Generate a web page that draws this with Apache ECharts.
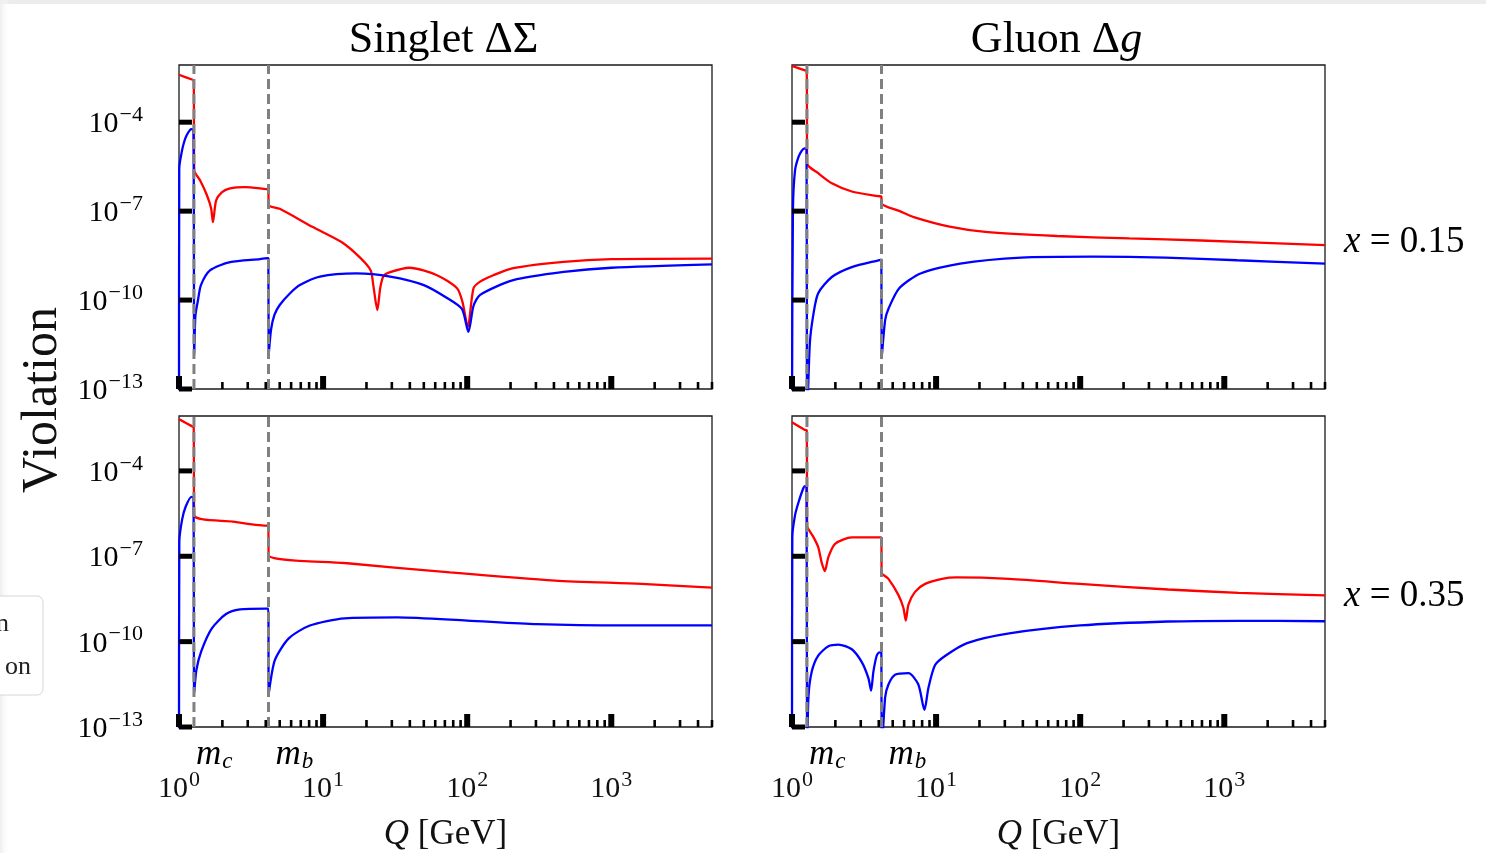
<!DOCTYPE html>
<html><head><meta charset="utf-8">
<script src="https://cdn.jsdelivr.net/npm/echarts@6/dist/echarts.min.js"></script>
<style>html,body{margin:0;padding:0;background:#fff}#c{width:1486px;height:853px}</style>
</head><body><div id="c"></div>
<script>
// ---------------- data ----------------
const panelTitles = ['Singlet ΔΣ', 'Gluon Δg'];
const rowValues = ['0.15', '0.35'];
const thresholdQ = [1.27, 4.18];       // m_c, m_b
const thresholdSub = ['c', 'b'];
const xRange = [1, 5000];
const yRange = [1e-13, 8.5e-3];
const xMajorTicks = [1, 10, 100, 1000];
const xMinorTicks = [2,3,4,5,6,7,8,9,20,30,40,50,60,70,80,90,200,300,400,500,600,700,800,900,2000,3000,4000,5000];
const yMajorTicks = [1e-13, 1e-10, 1e-7, 1e-4];
const xLabelExps = [0, 1, 2, 3];
const yLabelExps = [-13, -10, -7, -4];

// [Q (GeV), violation]
const singletRed015 = [[1.0,4.0e-3],[1.23,2.75e-3],[1.265,2.6e-3],[1.275,2.4e-6],[1.40,1.1e-6],[1.56,3.5e-7],[1.67,1.26e-7],[1.72,4.3e-8],[1.81,2.3e-7],[1.99,4.4e-7],[2.26,5.9e-7],[2.87,6.5e-7],[4.02,5.5e-7],[4.17,5.4e-7],[4.19,1.6e-7],[5.0,1.2e-7],[8.5,2.9e-8],[13.5,8.9e-9],[18.2,2.6e-9],[21.4,1.0e-9],[22.3,3.2e-10],[23.8,4.6e-11],[24.9,2.5e-10],[26.2,6.3e-10],[29.2,8.7e-10],[39.8,1.23e-9],[61.7,6.9e-10],[85,2.5e-10],[92.7,8.7e-11],[101,1.26e-11],[110.6,2.5e-10],[123,4.2e-10],[152,6.9e-10],[209,1.2e-9],[468,1.95e-9],[1000,2.4e-9],[5000,2.5e-9]];
const singletBlue015 = [[1.0,1e-14],[1.004,2.8e-6],[1.045,1.0e-5],[1.084,2.1e-5],[1.13,3.6e-5],[1.19,5.4e-5],[1.22,5.8e-5],[1.26,5.5e-5],[1.275,1.4e-12],[1.30,3e-11],[1.355,1.0e-10],[1.42,3.2e-10],[1.64,1.0e-9],[2.26,1.9e-9],[3.65,2.4e-9],[4.17,2.6e-9],[4.19,1.4e-12],[4.35,1.0e-11],[4.6,3.2e-11],[5.0,6.8e-11],[5.9,1.7e-10],[6.9,3.2e-10],[9.5,6.2e-10],[17,7.9e-10],[29.2,6.2e-10],[50,3.2e-10],[72,1.2e-10],[91.9,5e-11],[102,8.5e-12],[110.6,6.3e-11],[123,1.5e-10],[209,4.7e-10],[468,8.9e-10],[1000,1.23e-9],[5000,1.6e-9]];
const gluonRed015 = [[1.0,7.9e-3],[1.23,5.6e-3],[1.265,5.4e-3],[1.275,4.0e-6],[1.52,1.9e-6],[1.89,8.7e-7],[2.6,4.6e-7],[3.98,3.2e-7],[4.17,3.1e-7],[4.19,1.8e-7],[5.6,1.0e-7],[7.0,6.3e-8],[12.4,3.0e-8],[22,2.0e-8],[69,1.45e-8],[219,1.2e-8],[692,1.02e-8],[5000,7.1e-9]];
const gluonBlue015 = [[1.0,1e-14],[1.015,1.1e-7],[1.05,2.4e-6],[1.11,6.8e-6],[1.17,1.1e-5],[1.22,1.3e-5],[1.26,1.25e-5],[1.275,1e-14],[1.33,3.5e-12],[1.41,3.5e-11],[1.52,1.7e-10],[1.89,6e-10],[2.6,1.3e-9],[3.98,2.2e-9],[4.17,2.3e-9],[4.19,1.1e-12],[4.43,2.1e-11],[4.68,5.2e-11],[5.55,2.5e-10],[7.8,7.9e-10],[14.7,1.7e-9],[39,2.7e-9],[123,2.9e-9],[389,2.7e-9],[1230,2.2e-9],[5000,1.7e-9]];
const singletRed035 = [[1.0,6.6e-3],[1.245,3.6e-3],[1.265,3.5e-3],[1.275,2.8e-6],[2.37,1.66e-6],[4.03,1.2e-6],[4.17,1.2e-6],[4.19,1.1e-7],[14.1,5.8e-8],[76,2.7e-8],[407,1.4e-8],[1622,1.07e-8],[5000,7.9e-9]];
const singletBlue035 = [[1.0,1e-14],[1.005,3.2e-7],[1.05,1.9e-6],[1.11,5.4e-6],[1.22,1.23e-5],[1.26,1.15e-5],[1.275,1.6e-12],[1.32,1.0e-11],[1.43,4.7e-11],[1.69,2.9e-10],[2.12,9.3e-10],[2.65,1.35e-9],[4.03,1.45e-9],[4.17,1.45e-9],[4.19,1.45e-12],[4.62,2.2e-11],[5.78,1.3e-10],[8.1,3.7e-10],[14.1,6.6e-10],[32.7,7.1e-10],[100,5.5e-10],[305,4.1e-10],[1230,3.7e-10],[5000,3.7e-10]];
const gluonRed035 = [[1.0,5.1e-3],[1.22,2.8e-3],[1.265,2.7e-3],[1.275,1.1e-6],[1.30,9e-7],[1.40,5e-7],[1.52,2.1e-7],[1.61,5.8e-8],[1.69,3.0e-8],[1.79,9.5e-8],[1.99,2.75e-7],[2.6,4.6e-7],[4.08,4.6e-7],[4.17,4.6e-7],[4.19,2.7e-8],[4.67,1.6e-8],[5.47,4.4e-9],[5.93,1.55e-9],[6.16,5.5e-10],[6.43,2.0e-9],[7.14,5.6e-9],[8.39,1.07e-8],[11,1.6e-8],[13.8,1.8e-8],[32.2,1.6e-8],[99.5,1.07e-8],[407,6.8e-9],[1259,5.2e-9],[5000,4.2e-9]];
const gluonBlue035 = [[1.0,1e-14],[1.005,4.7e-7],[1.05,2.8e-6],[1.11,7.9e-6],[1.2,2.5e-5],[1.23,2.9e-5],[1.26,2.6e-5],[1.275,1e-14],[1.30,1.1e-12],[1.37,8.7e-12],[1.52,3.2e-11],[1.79,6.9e-11],[2.1,7.9e-11],[2.6,5.4e-11],[3.05,1.9e-11],[3.39,5.2e-12],[3.54,1.9e-12],[3.67,8.7e-12],[3.87,3.2e-11],[4.04,4.2e-11],[4.17,4.0e-11],[4.19,1e-14],[4.43,1.1e-12],[4.67,3.1e-12],[5.19,6.8e-12],[6.43,7.8e-12],[7.53,3.1e-12],[8.3,4e-13],[8.85,2.4e-12],[9.84,1.5e-11],[11.6,3.2e-11],[16.4,8.9e-11],[32.2,1.95e-10],[100,3.7e-10],[407,5.1e-10],[1259,5.4e-10],[5000,5.2e-10]];

// ---------------- layout / style ----------------
const SERIF = "'Liberation Serif', 'DejaVu Serif', serif";
const RED = '#ff0000', BLUE = '#0000ff', DASH = '#808080', INK = '#111';
const grids = [
  {left: 179, top: 65, width: 533, height: 324},
  {left: 792, top: 65, width: 533, height: 324},
  {left: 179, top: 416, width: 533, height: 325},
  {left: 792, top: 416, width: 533, height: 325}
];
const panelData = [
  [singletRed015, singletBlue015],
  [gluonRed015, gluonBlue015],
  [singletRed035, singletBlue035],
  [gluonRed035, gluonBlue035]
];

function exponentOf(v) {
  const l = Math.log10(v), e = Math.round(l);
  return Math.abs(l - e) < 1e-6 ? e : null;
}
const powRich = {
  b: {fontSize: 30, fontFamily: SERIF, color: INK},
  s: {fontSize: 22, fontFamily: SERIF, color: INK, padding: [0, 0, 18, 1]}
};
function powText(e) {
  return '{b|10}{s|' + (e < 0 ? '\u2212' + Math.abs(e) : e) + '}';
}
function xLabel(v) {
  const e = exponentOf(v);
  if (e === null || xLabelExps.indexOf(e) < 0) return '';
  return powText(e);
}

// tick marks (and y tick labels) drawn through the axes' scales
function makeTickRender(showYLabels) {
  return function (params, api) {
    const kind = api.value(2);
    const p = api.coord([api.value(0), api.value(1)]);
    if (kind === 1) return {type: 'rect', shape: {x: p[0] - 3, y: p[1] - 13, width: 6, height: 13}, style: {fill: '#000'}};
    if (kind === 0) return {type: 'rect', shape: {x: p[0] - 1.3, y: p[1] - 7, width: 2.6, height: 7}, style: {fill: '#000'}};
    const children = [{type: 'rect', shape: {x: p[0], y: p[1] - 2.5, width: 13, height: 5}, style: {fill: '#000'}}];
    const e = exponentOf(api.value(1));
    if (showYLabels && e !== null && yLabelExps.indexOf(e) >= 0) {
      children.push({type: 'text', x: p[0] - 36, y: p[1] + 2,
        style: {text: powText(e), rich: powRich, align: 'right', verticalAlign: 'middle'}});
    }
    return {type: 'group', children: children};
  };
}
const tickData = xMajorTicks.map(q => [q, yRange[0], 1])
  .concat(xMinorTicks.map(q => [q, yRange[0], 0]))
  .concat(yMajorTicks.map(v => [xRange[0], v, 2]));

// dashed threshold lines drawn through the axes' scales
function thresholdRender(params, api) {
  const q = api.value(0);
  const a = api.coord([q, yRange[0]]), b = api.coord([q, yRange[1]]);
  return {type: 'line', shape: {x1: a[0], y1: a[1], x2: b[0], y2: b[1]},
    style: {stroke: DASH, lineWidth: 3, lineDash: [10, 5]}};
}
const thresholdData = thresholdQ.map(q => [q, yRange[0]]);

const xAxes = [], yAxes = [], series = [];
grids.forEach((g, i) => {
  const bottom = i >= 2, left = (i % 2) === 0;
  xAxes.push({
    type: 'log', logBase: 10, gridIndex: i, min: xRange[0], max: xRange[1],
    axisLine: {show: false}, axisTick: {show: false}, splitLine: {show: false}, minorTick: {show: false},
    axisLabel: {show: bottom, margin: 42, fontSize: 30, fontFamily: SERIF, color: INK, formatter: xLabel, rich: powRich, showMinLabel: true, showMaxLabel: true, hideOverlap: false},
    name: bottom ? '{i|Q}{n| [GeV]}' : '', nameLocation: 'middle', nameGap: 90,
    nameTextStyle: {rich: {i: {fontSize: 35, fontStyle: 'italic', fontFamily: SERIF, color: INK}, n: {fontSize: 35, fontFamily: SERIF, color: INK}}}
  });
  yAxes.push({
    type: 'log', logBase: 10, gridIndex: i, min: yRange[0], max: yRange[1],
    axisLine: {show: false}, axisTick: {show: false}, splitLine: {show: false}, minorTick: {show: false},
    axisLabel: {show: false}
  });
  const [red, blue] = panelData[i];
  series.push({
    type: 'line', xAxisIndex: i, yAxisIndex: i, data: red, showSymbol: false, symbol: 'none',
    smooth: 0.25,
    lineStyle: {color: RED, width: 2.3}, itemStyle: {color: RED}, z: 2, clip: true, silent: true
  });
  series.push({
    type: 'line', xAxisIndex: i, yAxisIndex: i, data: blue, showSymbol: false, symbol: 'none',
    smooth: 0.25,
    lineStyle: {color: BLUE, width: 2.3}, itemStyle: {color: BLUE}, z: 2, clip: true, silent: true
  });
  series.push({
    type: 'custom', xAxisIndex: i, yAxisIndex: i, data: thresholdData, renderItem: thresholdRender,
    encode: {x: 0, y: 1}, z: 5, silent: true, clip: false
  });
  series.push({
    type: 'custom', xAxisIndex: i, yAxisIndex: i, data: tickData, renderItem: makeTickRender(left),
    encode: {x: 0, y: 1}, z: 6, silent: true, clip: false
  });
});

const chart = echarts.init(document.getElementById('c'), null, {renderer: 'canvas'});
chart.setOption({
  animation: false,
  backgroundColor: '#ffffff',
  grid: grids.map(g => Object.assign({show: true, borderColor: '#1a1a1a', borderWidth: 1.3, backgroundColor: 'transparent'}, g)),
  xAxis: xAxes,
  yAxis: yAxes,
  series: series
});

// ---------------- text annotations ----------------
const graphics = [];
graphics.push({type: 'rect', shape: {x: 0, y: 0, width: 1486, height: 4}, style: {fill: '#ececec'}, z: 0});
graphics.push({type: 'rect', shape: {x: 0, y: 0, width: 10, height: 853},
  style: {fill: new echarts.graphic.LinearGradient(0, 0, 1, 0, [{offset: 0, color: '#eeeeee'}, {offset: 1, color: 'rgba(255,255,255,0)'}])}, z: 0});
// legend remnant at the left edge
graphics.push({type: 'rect', shape: {x: -30, y: 596, width: 73, height: 99, r: 6}, style: {fill: '#fff', stroke: '#d6d6d6', lineWidth: 1}, z: 10});
graphics.push({type: 'text', x: 9, y: 624, z: 11, style: {text: 'n', font: '26px ' + SERIF, fill: '#222', align: 'right', verticalAlign: 'middle'}});
graphics.push({type: 'text', x: 31, y: 667, z: 11, style: {text: 'on', font: '26px ' + SERIF, fill: '#222', align: 'right', verticalAlign: 'middle'}});

// panel titles
const titleRich = {
  a: {fontSize: 44, fontFamily: SERIF, color: INK},
  i: {fontSize: 44, fontFamily: SERIF, fontStyle: 'italic', color: INK}
};
[0, 1].forEach(c => {
  const g = grids[c];
  const t = panelTitles[c];
  const txt = c === 0 ? '{a|' + t + '}' : '{a|' + t.slice(0, -1) + '}{i|' + t.slice(-1) + '}';
  graphics.push({type: 'text', x: g.left + g.width / 2 - 2, y: 40, z: 11,
    style: {text: txt, rich: titleRich, align: 'center', verticalAlign: 'middle'}});
});
// row labels
[0, 1].forEach(r => {
  const g = grids[r * 2 + 1];
  graphics.push({type: 'text', x: g.left + g.width + 19, y: r === 0 ? 242 : 596, z: 11,
    style: {text: '{i|x}{n| = ' + rowValues[r] + '}', align: 'left', verticalAlign: 'middle',
      rich: {i: {fontSize: 37, fontStyle: 'italic', fontFamily: SERIF, color: INK}, n: {fontSize: 37, fontFamily: SERIF, color: INK}}}});
});
// y-axis title
graphics.push({type: 'text', x: 43, y: 400, rotation: Math.PI / 2, z: 11,
  style: {text: 'Violation', font: '50px ' + SERIF, fill: INK, align: 'center', verticalAlign: 'middle'}});
// threshold labels below the bottom panels
[2, 3].forEach(i => {
  thresholdQ.forEach((q, k) => {
    const p = chart.convertToPixel({gridIndex: i}, [q, yRange[0]]);
    graphics.push({type: 'text', x: p[0] + (k === 0 ? 2 : 7), y: p[1] + 28, z: 11,
      style: {text: '{m|m}{s|' + thresholdSub[k] + '}', align: 'left', verticalAlign: 'middle',
        rich: {m: {fontSize: 35, fontStyle: 'italic', fontFamily: SERIF, color: INK},
               s: {fontSize: 23, fontStyle: 'italic', fontFamily: SERIF, color: INK, padding: [14, 0, 0, 1]}}}});
  });
});
chart.setOption({graphic: graphics});
</script>
</body></html>
